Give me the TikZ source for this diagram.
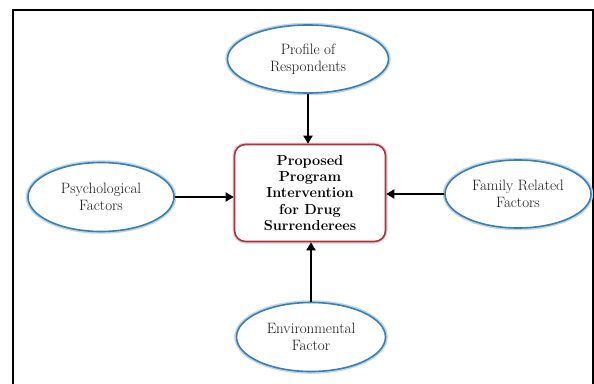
\documentclass[tikz,border=0pt]{standalone}
\usetikzlibrary{shapes.geometric,arrows.meta}
\definecolor{ellblue}{HTML}{3A7FB0}
\definecolor{glowblue}{HTML}{BFD6EA}
\definecolor{boxred}{HTML}{A8353F}
\definecolor{txt}{HTML}{1A1A1A}
\tikzset{
  factor/.style={ellipse, draw=ellblue, line width=1.6pt, fill=white, text=txt,
    font=\fontsize{15}{17.5}\selectfont, align=center, inner sep=0pt,
    preaction={draw=glowblue, line width=4.5pt}},
  centerbox/.style={rectangle, rounded corners=11pt, draw=boxred, line width=1.6pt,
    fill=white, text=black, font=\fontsize{14.5}{16.2}\selectfont\bfseries, align=center,
    minimum width=151pt, minimum height=97pt, inner sep=0pt,
    preaction={draw=boxred!25, line width=4pt}},
  link/.style={-{Triangle[length=8pt,width=9pt]}, line width=1.8pt, black}
}
\begin{document}
\begin{tikzpicture}[x=1pt,y=-1pt]
\useasboundingbox (0,0) rectangle (594,383);
\fill[white] (0,0) rectangle (594,383);
\draw[line width=1.6pt] (13,400) -- (13,10) -- (593,10) -- (593,400);
\node[factor, minimum width=161pt, minimum height=68pt] (top) at (308,59) {Profile of\\Respondents};
\node[factor, minimum width=146pt, minimum height=69pt] (left) at (101,197) {Psychological\\Factors};
\node[factor, minimum width=146pt, minimum height=68pt] (right) at (518,194) {Family Related\\Factors};
\node[factor, minimum width=149pt, minimum height=69pt] (bottom) at (311,337) {Environmental\\Factor};
\node[centerbox] (c) at (310,193) {Proposed\\Program\\Intervention\\for Drug\\Surrenderees};
\draw[link] (top.south) -- (top.south |- c.north);
\draw[link] (left.east) -- (left.east -| c.west);
\draw[link] (right.west) -- (right.west -| c.east);
\draw[link] (bottom.north) -- (bottom.north |- c.south);
\end{tikzpicture}
\end{document}
